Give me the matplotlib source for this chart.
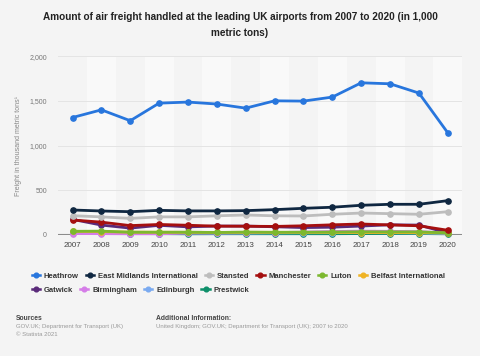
import matplotlib
matplotlib.use('Agg')
import matplotlib.pyplot as plt
from matplotlib.lines import Line2D

plt.rcParams['font.family'] = ['Liberation Sans', 'DejaVu Sans']

# Dados (mil toneladas métricas)
ANOS = list(range(2007, 2021))
AEROPORTOS = ['Heathrow', 'East Midlands International', 'Stansted', 'Manchester', 'Luton',
              'Belfast International', 'Gatwick', 'Birmingham', 'Edinburgh', 'Prestwick']
heathrow = [1314, 1400, 1278, 1475, 1487, 1465, 1419, 1501, 1498, 1543, 1703, 1692, 1588, 1142]
east_midlands = [277, 266, 258, 273, 267, 267, 270, 281, 296, 308, 330, 341, 341, 382]
stansted = [213, 200, 183, 200, 200, 212, 221, 212, 210, 229, 243, 236, 229, 258]
manchester = [165, 141, 102, 115, 106, 96, 95, 93, 100, 111, 120, 110, 100, 50]
luton = [38, 40, 28, 28, 28, 25, 29, 27, 28, 30, 33, 32, 32, 20]
belfast = [38, 35, 29, 28, 27, 26, 27, 27, 26, 25, 24, 24, 23, 20]
gatwick = [172, 108, 74, 105, 88, 97, 97, 89, 80, 84, 97, 111, 108, 20]
birmingham = [13, 12, 10, 10, 19, 19, 22, 24, 29, 36, 40, 38, 34, 20]
edinburgh = [19, 14, 23, 20, 20, 19, 19, 20, 22, 23, 24, 22, 20, 14]
prestwick = [31, 22, 13, 12, 10, 11, 11, 11, 11, 11, 13, 13, 13, 10]
SERIES = [heathrow, east_midlands, stansted, manchester, luton,
          belfast, gatwick, birmingham, edinburgh, prestwick]
CORES = ['#2876dd', '#0f2741', '#bdbdbd', '#a50f0f', '#7cb82f',
         '#efb325', '#5a2a7a', '#d57de8', '#7aaaf0', '#0e8f6a']

fig = plt.figure(figsize=(4.8, 3.56), dpi=100, facecolor='#f4f4f4')
ax = fig.add_axes([0.121, 0.3407, 0.842, 0.5011])
ax.set_facecolor('#f4f4f4')

for ano in ANOS:
    if ano % 2 == 0:
        ax.axvspan(ano - 0.5, ano + 0.5, color='#f9f9f9', zorder=0, lw=0)

# desenha de trás para frente para Heathrow ficar por cima
for nome, vals, cor in reversed(list(zip(AEROPORTOS, SERIES, CORES))):
    ax.plot(ANOS, vals, color=cor, lw=2.0, marker='o', ms=3.8, zorder=3, clip_on=False)

ax.set_xlim(2006.5, 2020.5)
ax.set_ylim(0, 2000)
ax.set_yticks([0, 500, 1000, 1500, 2000])
ax.set_yticklabels(['0', '500', '1,000', '1,500', '2,000'])
ax.set_xticks(ANOS)
ax.grid(axis='y', color='#e4e4e4', lw=0.7, zorder=1)
ax.axhline(0, color='#8c8c8c', lw=1.5, zorder=2)
for s in ax.spines.values():
    s.set_visible(False)
ax.tick_params(axis='y', length=0, labelsize=5, labelcolor='#777777', pad=8)
ax.tick_params(axis='x', length=0, labelsize=5.8, labelcolor='#444444', pad=5)
ax.set_ylabel('Freight in thousand metric tons¹', fontsize=5, color='#888888', labelpad=5)

fig.text(0.5, 0.965, 'Amount of air freight handled at the leading UK airports from 2007 to 2020 (in 1,000\nmetric tons)',
         ha='center', va='top', fontsize=7.2, fontweight='bold', color='#222222', linespacing=1.65)

# Legenda em duas linhas
def handles(idx):
    return [Line2D([0], [0], color=CORES[i], lw=1.8, marker='o', ms=3.4) for i in idx]

linha1 = [0, 1, 2, 3, 4, 5]
linha2 = [6, 7, 8, 9]
for idx, y in [(linha1, 0.2247), (linha2, 0.185)]:
    leg = fig.legend(handles(idx), [AEROPORTOS[i] for i in idx], loc='center left',
                     bbox_to_anchor=(0.066, y), ncol=len(idx), frameon=False,
                     fontsize=5.5, handlelength=1.1, handletextpad=0.5, columnspacing=0.9,
                     borderaxespad=0, borderpad=0)
    for t in leg.get_texts():
        t.set_fontweight('bold')
        t.set_color('#333333')

fig.text(0.033, 0.104, 'Sources', fontsize=4.9, fontweight='bold', color='#444444', va='center')
fig.text(0.033, 0.082, 'GOV.UK; Department for Transport (UK)', fontsize=4.3, color='#999999', va='center')
fig.text(0.033, 0.060, '© Statista 2021', fontsize=4.3, color='#999999', va='center')
fig.text(0.325, 0.104, 'Additional Information:', fontsize=4.9, fontweight='bold', color='#444444', va='center')
fig.text(0.325, 0.082, 'United Kingdom; GOV.UK; Department for Transport (UK); 2007 to 2020',
         fontsize=4.35, color='#999999', va='center')

fig.savefig('out.png', dpi=100, facecolor=fig.get_facecolor())
